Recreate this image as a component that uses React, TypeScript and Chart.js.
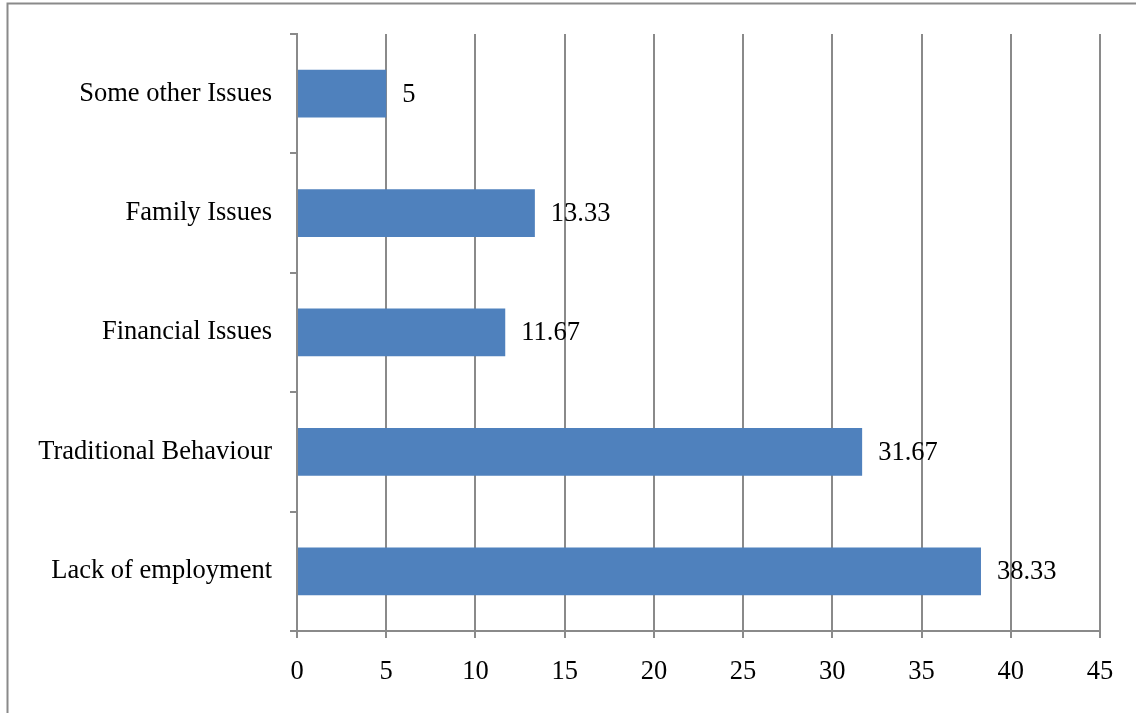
import React, { useEffect, useRef } from "react";
import { Chart, registerables } from "chart.js";

Chart.register(...registerables);

const categories: string[] = [
  "Some other Issues",
  "Family Issues",
  "Financial Issues",
  "Traditional Behaviour",
  "Lack of employment",
];
const values: number[] = [5, 13.33, 11.67, 31.67, 38.33];
const xMin = 0;
const xMax = 45;
const xStep = 5;

const FONT = "'Liberation Serif', 'Times New Roman', serif";
const GRAY = "#8a8a8a";
const BAR = "#4F81BD";
const FS = 26.5;

const W = 1136;
const H = 713;

export default function App() {
  const ref = useRef<HTMLCanvasElement | null>(null);

  useEffect(() => {
    document.body.style.margin = "0";
    const canvas = ref.current;
    if (!canvas) return;

    const labelPlugin = {
      id: "valueLabels",
      afterDatasetsDraw(chart: any) {
        const ctx = chart.ctx;
        const meta = chart.getDatasetMeta(0);
        ctx.save();
        ctx.font = `${FS}px ${FONT}`;
        ctx.fillStyle = "#000";
        ctx.textAlign = "left";
        ctx.textBaseline = "middle";
        meta.data.forEach((el: any, i: number) => {
          ctx.fillText(String(values[i]), el.x + 16, el.y + 1);
        });
        ctx.restore();
      },
    };

    const borderPlugin = {
      id: "outerBorder",
      afterDraw(chart: any) {
        const ctx = chart.ctx;
        ctx.save();
        ctx.strokeStyle = GRAY;
        ctx.lineWidth = 2;
        ctx.strokeRect(7.5, 3.5, 2000, 2000);
        ctx.restore();
      },
    };

    const chart = new Chart(canvas, {
      type: "bar",
      data: {
        labels: categories,
        datasets: [
          {
            data: values,
            backgroundColor: BAR,
            borderWidth: 0,
            barPercentage: 0.4,
            categoryPercentage: 1,
          },
        ],
      },
      options: {
        indexAxis: "y",
        responsive: false,
        animation: false,
        devicePixelRatio: 1,
        layout: { padding: { top: 32, right: 36, bottom: 0, left: 0 } },
        plugins: {
          legend: { display: false },
          tooltip: { enabled: false },
        },
        scales: {
          x: {
            min: xMin,
            max: xMax,
            afterFit: (scale: any) => {
              scale.height = 82;
            },
            ticks: {
              stepSize: xStep,
              color: "#000",
              font: { family: FONT, size: FS },
              padding: 18,
            },
            grid: {
              color: GRAY,
              lineWidth: 2,
              drawTicks: true,
              tickLength: 7,
            },
            border: { display: true, color: GRAY, width: 2 },
          },
          y: {
            afterFit: (scale: any) => {
              scale.width = 297;
            },
            ticks: {
              color: "#000",
              font: { family: FONT, size: FS },
              padding: 18,
            },
            grid: {
              color: GRAY,
              lineWidth: 2,
              drawOnChartArea: false,
              drawTicks: true,
              tickLength: 7,
              offset: true,
            },
            border: { display: true, color: GRAY, width: 2 },
          },
        },
      },
      plugins: [labelPlugin, borderPlugin],
    } as any);

    return () => chart.destroy();
  }, []);

  return (
    <div style={{ position: "absolute", left: 0, top: 0, width: W, height: H, background: "#fff" }}>
      <canvas ref={ref} width={W} height={H} style={{ display: "block", width: W, height: H }} />
    </div>
  );
}
